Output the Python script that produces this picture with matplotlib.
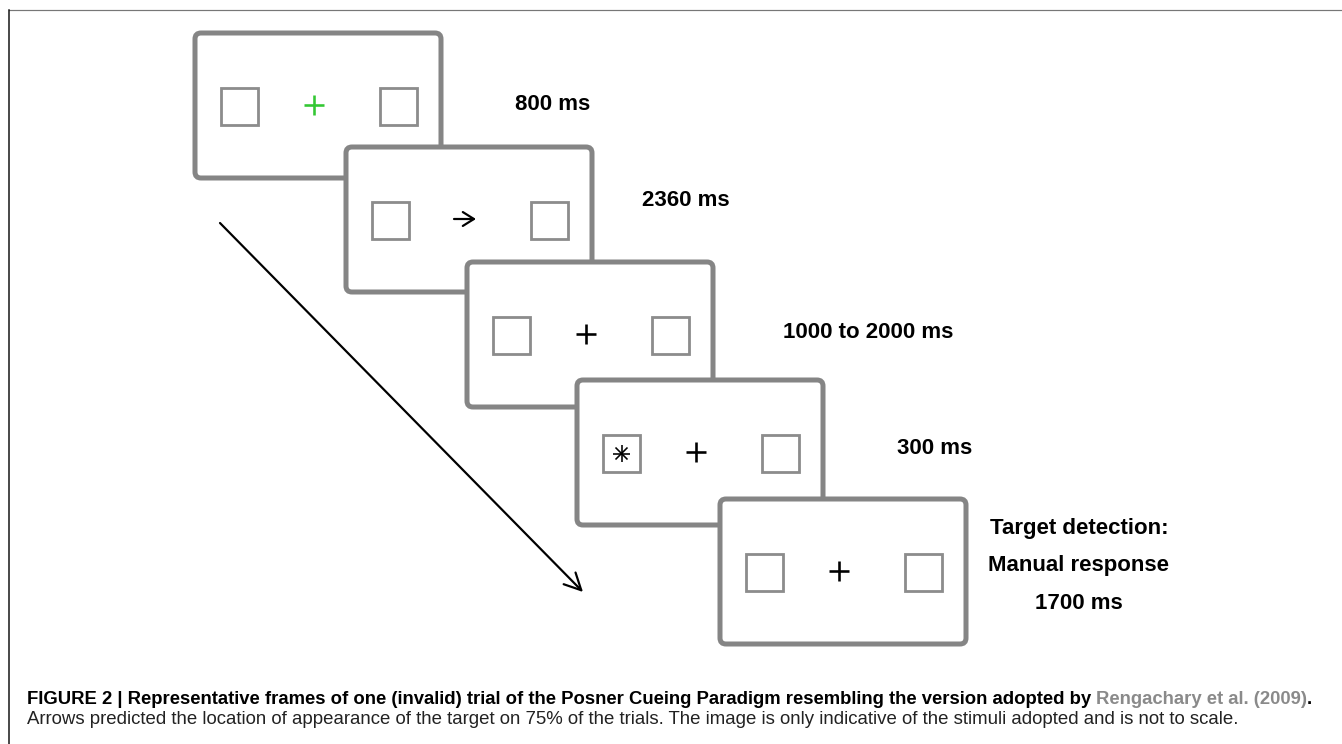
import matplotlib
matplotlib.use("Agg")
import numpy as np
import matplotlib.pyplot as plt
from matplotlib.patches import FancyBboxPatch, Rectangle, FancyArrowPatch

plt.rcParams['font.family'] = ['Liberation Sans', 'DejaVu Sans']

# Ablauf eines Trials: Hinweisreiz in der Mitte und Dauer jedes Bildes
cue_symbols = ['plus_green', 'arrow', 'plus', 'plus', 'plus']
target_in_left = [False, False, False, True, False]
durations = ['800 ms', '2360 ms', '1000 to 2000 ms', '300 ms',
             'Target detection:\nManual response\n1700 ms']

# Lage der Bilder (Pixel, obere linke Ecke) und der Beschriftungen
frame_left = [195, 346, 467, 577, 720]
frame_top = [33, 147, 262, 380, 499]
label_xy = [(553, 105), (686, 200), (868, 332), (935, 448), (1079, 566)]

caption_bold = 'FIGURE 2 | Representative frames of one (invalid) trial of the Posner Cueing Paradigm resembling the version adopted by '
caption_ref = 'Rengachary et al. (2009)'
caption_line2 = ('Arrows predicted the location of appearance of the target on 75% of the trials. '
                 'The image is only indicative of the stimuli adopted and is not to scale.')

W, H = 1342, 744
fw, fh = 246, 145          # Bildgroesse
sq = 37                    # Kaestchen links/rechts
frame_col = '#858585'
box_col = '#8c8c8c'
px = 0.72                  # Pixel -> Punkte bei dpi 100

fig = plt.figure(figsize=(W / 100, H / 100), dpi=100)
ax = fig.add_axes([0, 0, 1, 1])
ax.set_xlim(0, W)
ax.set_ylim(H, 0)
ax.axis('off')

# Rahmen der ganzen Abbildung
ax.plot([9, W], [10, 10], color='#777777', lw=1.2 * px, zorder=1)
ax.plot([9, 9], [10, H], color='#111111', lw=1.5 * px, zorder=1)

# Grosser diagonaler Pfeil
big = FancyArrowPatch((220, 223), (583, 592), arrowstyle='->,head_length=0.6,head_width=0.3',
                      mutation_scale=20, lw=2.2 * px, color='black', zorder=2,
                      shrinkA=0, shrinkB=0)
ax.add_patch(big)

for i in range(len(frame_left)):
    x0, y0 = frame_left[i], frame_top[i]
    z = 10 + i * 5
    fr = FancyBboxPatch((x0, y0), fw, fh, boxstyle='round,pad=0,rounding_size=6',
                        facecolor='white', edgecolor=frame_col, lw=5 * px, zorder=z)
    ax.add_patch(fr)

    sy = y0 + 55
    for sx in (x0 + 26, x0 + fw - 24 - sq):
        ax.add_patch(Rectangle((sx, sy), sq, sq, facecolor='none', edgecolor=box_col,
                               lw=2.8 * px, zorder=z + 1))

    cx, cy = x0 + 119, y0 + 72
    sym = cue_symbols[i]
    if sym == 'arrow':
        ax.add_patch(FancyArrowPatch((cx - 11, cy), (cx + 11, cy),
                                     arrowstyle='->,head_length=0.4,head_width=0.25',
                                     mutation_scale=20, lw=2.2 * px, color='black',
                                     zorder=z + 1, shrinkA=0, shrinkB=0))
    else:
        c = '#33c733' if sym == 'plus_green' else 'black'
        ax.plot([cx - 10, cx + 10], [cy, cy], color=c, lw=2.6 * px, zorder=z + 1,
                solid_capstyle='butt')
        ax.plot([cx, cx], [cy - 10, cy + 10], color=c, lw=2.6 * px, zorder=z + 1,
                solid_capstyle='butt')

    if target_in_left[i]:
        tx, ty = x0 + 26 + sq / 2, sy + sq / 2
        for a in np.deg2rad([0, 45, 90, 135]):
            dx, dy = 8.5 * np.cos(a), 8.5 * np.sin(a)
            ax.plot([tx - dx, tx + dx], [ty - dy, ty + dy], color='black',
                    lw=1.6 * px, zorder=z + 2, solid_capstyle='butt')

    lx, ly = label_xy[i]
    ax.text(lx, ly, durations[i], fontsize=16, fontweight='bold', ha='center',
            va='center', linespacing=2.05, zorder=z)

# Bildunterschrift mit farbigem Literaturverweis
fs1, fs2 = 13.3, 13.4
t1 = ax.text(27, 704, caption_bold, fontsize=fs1, fontweight='bold', va='baseline')
fig.canvas.draw()
r = fig.canvas.get_renderer()
x_end = t1.get_window_extent(r).x1
t2 = ax.text(x_end, 704, caption_ref, fontsize=fs1, fontweight='bold', va='baseline',
             color='#8a8a8a')
x_end = t2.get_window_extent(r).x1
ax.text(x_end, 704, '.', fontsize=fs1, fontweight='bold', va='baseline')
ax.text(27, 724, caption_line2, fontsize=fs2, va='baseline', color='#222222')

fig.savefig('out.png', dpi=100)
